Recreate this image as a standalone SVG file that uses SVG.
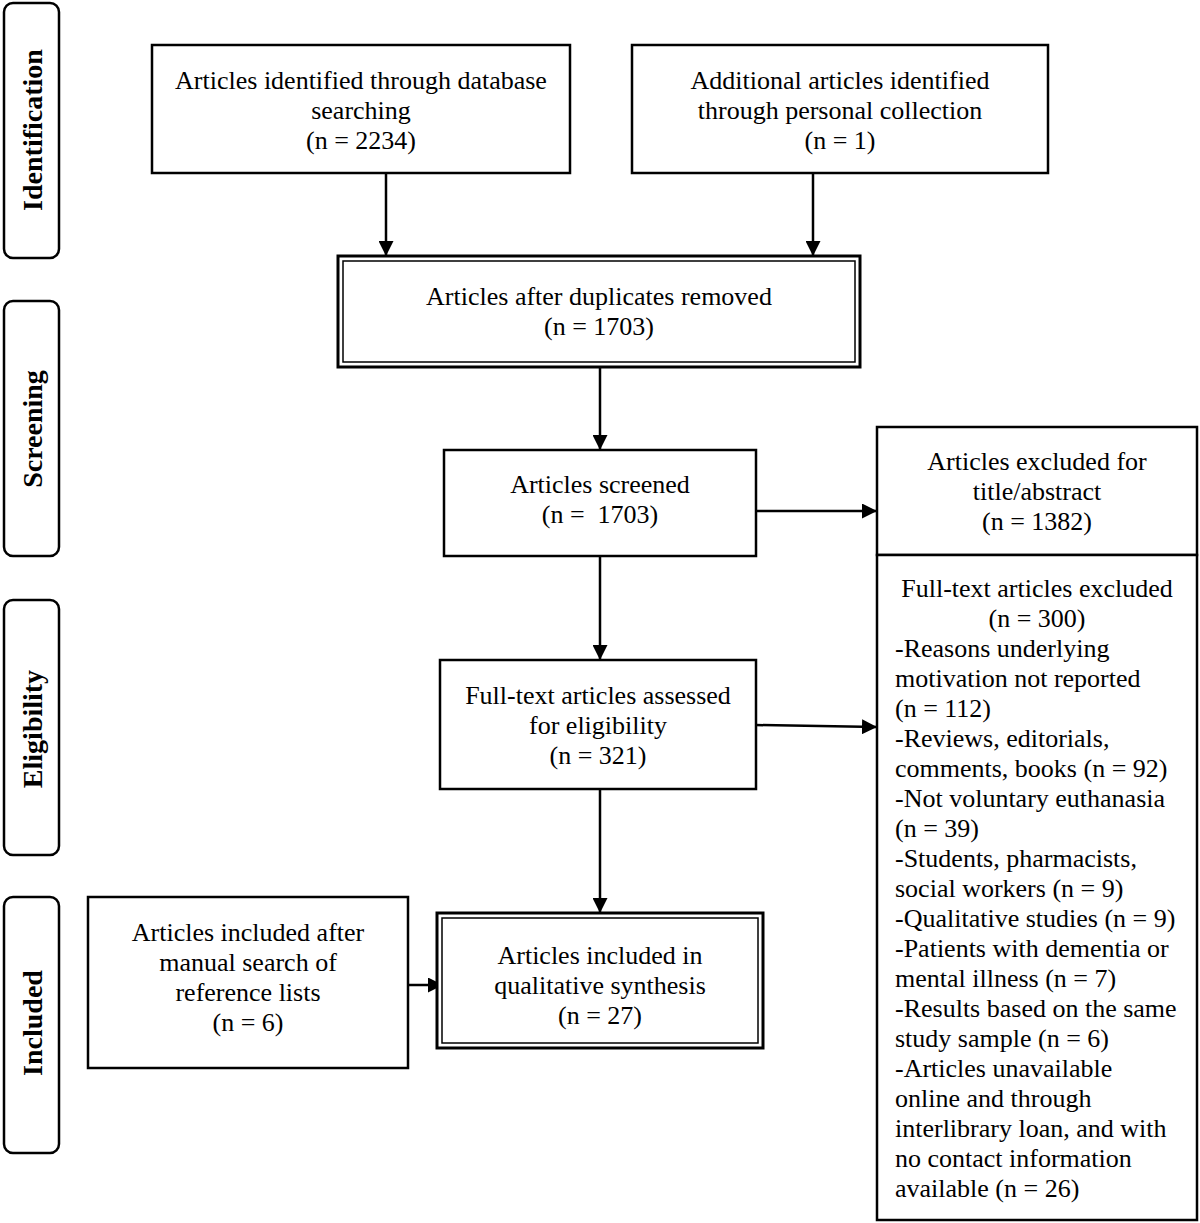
<svg xmlns="http://www.w3.org/2000/svg" width="1200" height="1223" viewBox="0 0 1200 1223">
<style>
text{font-family:"Liberation Serif","Times New Roman",serif;font-size:26px;fill:#000}
.c{text-anchor:middle}
.side{font-weight:bold;text-anchor:middle;font-size:28px}
.box{fill:#fff;stroke:#000;stroke-width:2.5}
.sb{fill:#fff;stroke:#000;stroke-width:2.5}
.dout{fill:#fff;stroke:#000;stroke-width:3}
.din{fill:none;stroke:#000;stroke-width:1.5}
.ln{stroke:#000;stroke-width:2.5;fill:none;marker-end:url(#ah)}
</style>
<defs>
<marker id="ah" viewBox="0 0 10 10" refX="10" refY="5" markerWidth="6" markerHeight="6" markerUnits="strokeWidth" orient="auto">
<path d="M0,0 L10,5 L0,10 z" fill="#000"/>
</marker>
</defs>
<rect width="1200" height="1223" fill="#fff"/>
<g id="stage-identification"><rect class="sb" x="4" y="3" width="55" height="255" rx="9"/><text class="side" transform="translate(42,130) rotate(-90)">Identification</text></g>
<g id="stage-screening"><rect class="sb" x="4" y="301" width="55" height="255" rx="9"/><text class="side" transform="translate(42,429) rotate(-90)">Screening</text></g>
<g id="stage-eligibility"><rect class="sb" x="4" y="600" width="55" height="255" rx="9"/><text class="side" transform="translate(42,729) rotate(-90)">Eligibility</text></g>
<g id="stage-included"><rect class="sb" x="4" y="897" width="55" height="256" rx="9"/><text class="side" transform="translate(42,1023) rotate(-90)">Included</text></g>

<g id="connectors">
<line class="ln" x1="386" y1="173" x2="386" y2="256"/>
<line class="ln" x1="813" y1="173" x2="813" y2="256"/>
<line class="ln" x1="600" y1="367" x2="600" y2="450"/>
<line class="ln" x1="756" y1="511" x2="877" y2="511"/>
<line class="ln" x1="600" y1="556" x2="600" y2="660"/>
<line class="ln" x1="756" y1="725" x2="877" y2="727"/>
<line class="ln" x1="600" y1="789" x2="600" y2="913"/>
<line class="ln" x1="408" y1="985" x2="443" y2="985"/>
</g>

<g id="n-database"><rect class="box" x="152" y="45" width="418" height="128"/>
<text class="c" x="361" y="89">Articles identified through database</text><text class="c" x="361" y="119">searching</text><text class="c" x="361" y="149">(n = 2234)</text></g>
<g id="n-personal"><rect class="box" x="632" y="45" width="416" height="128"/>
<text class="c" x="840" y="89">Additional articles identified</text><text class="c" x="840" y="119">through personal collection</text><text class="c" x="840" y="149">(n = 1)</text></g>
<g id="n-duplicates"><rect class="dout" x="338" y="256" width="522" height="111"/><rect class="din" x="343" y="261" width="512" height="101"/>
<text class="c" x="599" y="305">Articles after duplicates removed</text><text class="c" x="599" y="335">(n = 1703)</text></g>
<g id="n-screened"><rect class="box" x="444" y="450" width="312" height="106"/>
<text class="c" x="600" y="493">Articles screened</text><text class="c" x="600" y="523" xml:space="preserve">(n =  1703)</text></g>
<g id="n-excluded-title"><rect class="box" x="877" y="427" width="320" height="128"/>
<text class="c" x="1037" y="470">Articles excluded for</text><text class="c" x="1037" y="500">title/abstract</text><text class="c" x="1037" y="530">(n = 1382)</text></g>
<g id="n-excluded-fulltext"><rect class="box" x="877" y="555" width="320" height="665"/>
<text class="c" x="1037" y="597">Full-text articles excluded</text><text class="c" x="1037" y="627">(n = 300)</text>
<text x="895" y="657">-Reasons underlying</text>
<text x="895" y="687">motivation not reported</text>
<text x="895" y="717">(n = 112)</text>
<text x="895" y="747">-Reviews, editorials,</text>
<text x="895" y="777">comments, books (n = 92)</text>
<text x="895" y="807">-Not voluntary euthanasia</text>
<text x="895" y="837">(n = 39)</text>
<text x="895" y="867">-Students, pharmacists,</text>
<text x="895" y="897">social workers (n = 9)</text>
<text x="895" y="927">-Qualitative studies (n = 9)</text>
<text x="895" y="957">-Patients with dementia or</text>
<text x="895" y="987">mental illness (n = 7)</text>
<text x="895" y="1017">-Results based on the same</text>
<text x="895" y="1047">study sample (n = 6)</text>
<text x="895" y="1077">-Articles unavailable</text>
<text x="895" y="1107">online and through</text>
<text x="895" y="1137">interlibrary loan, and with</text>
<text x="895" y="1167">no contact information</text>
<text x="895" y="1197">available (n = 26)</text></g>
<g id="n-assessed"><rect class="box" x="440" y="660" width="316" height="129"/>
<text class="c" x="598" y="704">Full-text articles assessed</text><text class="c" x="598" y="734">for eligibility</text><text class="c" x="598" y="764">(n = 321)</text></g>
<g id="n-manual"><rect class="box" x="88" y="897" width="320" height="171"/>
<text class="c" x="248" y="941">Articles included after</text><text class="c" x="248" y="971">manual search of</text><text class="c" x="248" y="1001">reference lists</text><text class="c" x="248" y="1031">(n = 6)</text></g>
<g id="n-included"><rect class="dout" x="437" y="913" width="326" height="135"/><rect class="din" x="442" y="918" width="316" height="125"/>
<text class="c" x="600" y="964">Articles included in</text><text class="c" x="600" y="994">qualitative synthesis</text><text class="c" x="600" y="1024">(n = 27)</text></g>
</svg>
